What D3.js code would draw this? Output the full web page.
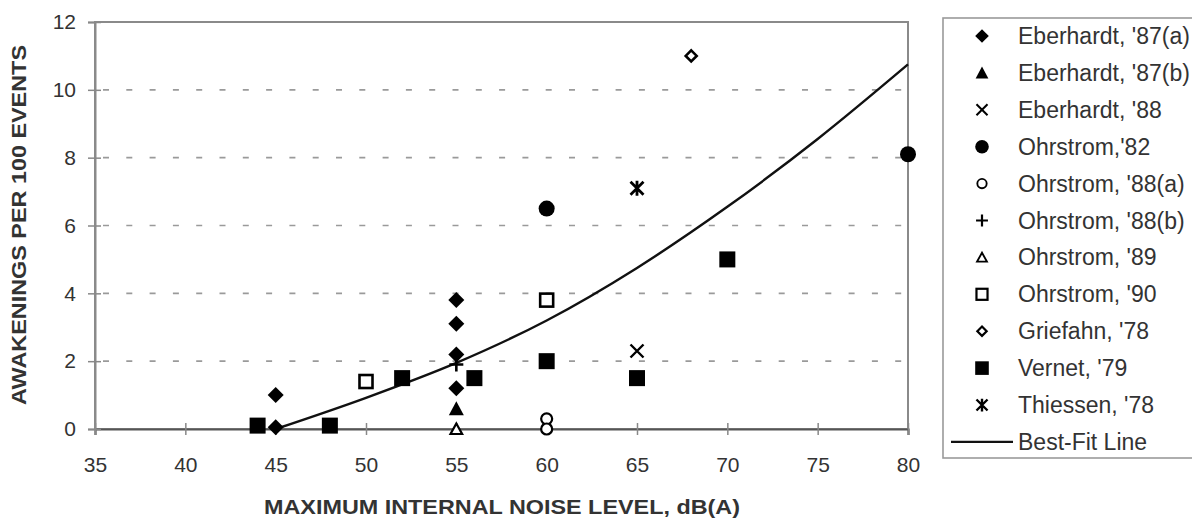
<!DOCTYPE html>
<html>
<head>
<meta charset="utf-8">
<script src="https://cdn.jsdelivr.net/npm/d3@7"></script>
<style>
  body { margin: 0; background: #fff; }
  svg { display: block; font-family: "Liberation Sans", Arial, sans-serif; }
</style>
</head>
<body>
<svg id="chart" width="1192" height="520"></svg>
<script>
// study names (legend order) and marker kinds
const studies = ["Eberhardt, '87(a)", "Eberhardt, '87(b)", "Eberhardt, '88", "Ohrstrom,'82",
  "Ohrstrom, '88(a)", "Ohrstrom, '88(b)", "Ohrstrom, '89", "Ohrstrom, '90",
  "Griefahn, '78", "Vernet, '79", "Thiessen, '78"];
const markers = ["diamondFill", "triFill", "x", "circleFill", "circleOpen", "plus",
  "triOpen", "squareOpen", "diamondOpen", "squareFill", "star"];

// noise level dB(A) and awakenings per 100 events, one pair of arrays per study
const noiseLevels = [
  [45, 45, 55, 55, 55, 55],
  [55],
  [65],
  [60, 80],
  [60, 60],
  [55],
  [55],
  [50, 60],
  [68],
  [44, 48, 52, 56, 60, 65, 70],
  [65]
];
const awakenings = [
  [1.0, 0.05, 3.8, 3.1, 2.2, 1.2],
  [0.6],
  [2.3],
  [6.5, 8.1],
  [0.3, 0.0],
  [1.9],
  [0.0],
  [1.4, 3.8],
  [11.0],
  [0.1, 0.1, 1.5, 1.5, 2.0, 1.5, 5.0],
  [7.1]
];

// best-fit curve
const fitLevels = [45, 50, 55, 60, 65, 70, 75, 80];
const fitValues = [0, 0.92, 1.95, 3.2, 4.75, 6.55, 8.55, 10.75];

const xTicks = [35, 40, 45, 50, 55, 60, 65, 70, 75, 80];
const yTicks = [0, 2, 4, 6, 8, 10, 12];

const svg = d3.select('#chart');
const plotL = 95, plotR = 908, plotT = 22, plotB = 429;

const x = d3.scaleLinear().domain([35, 80]).range([plotL, plotR]);
const y = d3.scaleLinear().domain([0, 12]).range([plotB, plotT]);

// marker shapes drawn around 0,0
function drawMarker(g, kind) {
  const k = 'black';
  if (kind === 'diamondFill') {
    g.append('path').attr('d', 'M0,-8L8,0L0,8L-8,0Z').attr('fill', k);
  } else if (kind === 'diamondOpen') {
    g.append('path').attr('d', 'M0,-5.5L5.5,0L0,5.5L-5.5,0Z')
      .attr('fill', '#fff').attr('stroke', k).attr('stroke-width', 2.6);
  } else if (kind === 'triFill') {
    g.append('path').attr('d', 'M0,-7.5L7.5,6.5L-7.5,6.5Z').attr('fill', k);
  } else if (kind === 'triOpen') {
    g.append('path').attr('d', 'M0,-5.5L5.8,5L-5.8,5Z')
      .attr('fill', '#fff').attr('stroke', k).attr('stroke-width', 2.2);
  } else if (kind === 'circleFill') {
    g.append('circle').attr('r', 8).attr('fill', k);
  } else if (kind === 'circleOpen') {
    g.append('circle').attr('r', 5.5).attr('fill', '#fff')
      .attr('stroke', k).attr('stroke-width', 2.2);
  } else if (kind === 'squareFill') {
    g.append('rect').attr('x', -8).attr('y', -8).attr('width', 16).attr('height', 16).attr('fill', k);
  } else if (kind === 'squareOpen') {
    g.append('rect').attr('x', -6.5).attr('y', -6.5).attr('width', 13).attr('height', 13)
      .attr('fill', '#fff').attr('stroke', k).attr('stroke-width', 2.6);
  } else if (kind === 'x') {
    g.append('path').attr('d', 'M-6.5,-6.5L6.5,6.5M-6.5,6.5L6.5,-6.5')
      .attr('stroke', k).attr('stroke-width', 2.4);
  } else if (kind === 'plus') {
    g.append('path').attr('d', 'M-7,0L7,0M0,-7L0,7')
      .attr('stroke', k).attr('stroke-width', 2.6);
  } else if (kind === 'star') {
    g.append('path').attr('d', 'M-6.5,-6.5L6.5,6.5M-6.5,6.5L6.5,-6.5M0,-7.5L0,7.5')
      .attr('stroke', k).attr('stroke-width', 2.8);
  }
}

// grid lines
svg.append('g')
  .selectAll('line')
  .data(yTicks.filter(d => d > 0 && d < 12))
  .enter()
  .append('line')
  .attr('x1', plotL + 8).attr('x2', plotR)
  .attr('y1', d => y(d)).attr('y2', d => y(d))
  .attr('stroke', '#9a9a9a').attr('stroke-width', 1.6)
  .attr('stroke-dasharray', '6,17.3');

// frame
svg.append('rect')
  .attr('x', plotL).attr('y', plotT)
  .attr('width', plotR - plotL).attr('height', plotB - plotT)
  .attr('fill', 'none').attr('stroke', '#8a8a8a').attr('stroke-width', 2);

// axes
const xAxis = d3.axisBottom(x).tickValues(xTicks).tickSize(6).tickPadding(22);
const gx = svg.append('g').attr('transform', `translate(0,${plotB})`).call(xAxis);
gx.select('.domain').attr('stroke', '#555').attr('stroke-width', 2.2);
gx.selectAll('.tick line').attr('y1', -6).attr('y2', 6).attr('stroke', '#888').attr('stroke-width', 1.5);
gx.selectAll('.tick text').attr('font-size', 21).attr('fill', '#333')
  .attr('font-family', '"Liberation Sans", Arial, sans-serif');

const yAxis = d3.axisLeft(y).tickValues(yTicks).tickSize(7).tickPadding(12);
const gy = svg.append('g').attr('transform', `translate(${plotL},0)`).call(yAxis);
gy.select('.domain').attr('stroke', '#8a8a8a').attr('stroke-width', 2);
gy.selectAll('.tick line').attr('x1', -7).attr('x2', 6).attr('stroke', '#888').attr('stroke-width', 1.5);
gy.selectAll('.tick text').attr('font-size', 21).attr('fill', '#333')
  .attr('font-family', '"Liberation Sans", Arial, sans-serif');

// axis titles
svg.append('text')
  .attr('x', 502).attr('y', 514)
  .attr('text-anchor', 'middle')
  .attr('font-size', 21).attr('font-weight', 'bold').attr('fill', '#333')
  .attr('textLength', 476).attr('lengthAdjust', 'spacingAndGlyphs')
  .text('MAXIMUM INTERNAL NOISE LEVEL, dB(A)');

svg.append('text')
  .attr('transform', 'translate(26,225) rotate(-90)')
  .attr('text-anchor', 'middle')
  .attr('font-size', 21).attr('font-weight', 'bold').attr('fill', '#333')
  .attr('textLength', 360).attr('lengthAdjust', 'spacingAndGlyphs')
  .text('AWAKENINGS PER 100 EVENTS');

// best-fit line
const line = d3.line()
  .x((d, i) => x(fitLevels[i]))
  .y(d => y(d))
  .curve(d3.curveMonotoneX);
svg.append('path')
  .attr('d', line(fitValues))
  .attr('fill', 'none').attr('stroke', '#111').attr('stroke-width', 2.4);

// points
studies.forEach((name, s) => {
  noiseLevels[s].forEach((lv, j) => {
    const g = svg.append('g')
      .attr('transform', `translate(${x(lv)},${y(awakenings[s][j])})`);
    drawMarker(g, markers[s]);
  });
});

// legend
const legX = 943, legTop = 18, rowH = 36.9, row0 = 36;
svg.append('rect')
  .attr('x', legX).attr('y', legTop)
  .attr('width', 270).attr('height', 440)
  .attr('fill', '#fff').attr('stroke', '#9a9a9a').attr('stroke-width', 1.6);

const legend = svg.append('g')
  .selectAll('g')
  .data(studies.concat(['Best-Fit Line']))
  .enter()
  .append('g')
  .attr('transform', (d, i) => `translate(0,${row0 + i * rowH})`);

legend.each(function (d, i) {
  const g = d3.select(this);
  if (i < studies.length) {
    const m = g.append('g');
    drawMarker(m, markers[i]);
    m.attr('transform', 'translate(982,0) scale(0.85)');
  } else {
    g.append('line').attr('x1', 951).attr('x2', 1013)
      .attr('stroke', '#111').attr('stroke-width', 2.4);
  }
  g.append('text')
    .attr('x', 1018).attr('y', 8)
    .attr('font-size', 23).attr('fill', '#333')
    .text(d);
});
</script>
</body>
</html>
